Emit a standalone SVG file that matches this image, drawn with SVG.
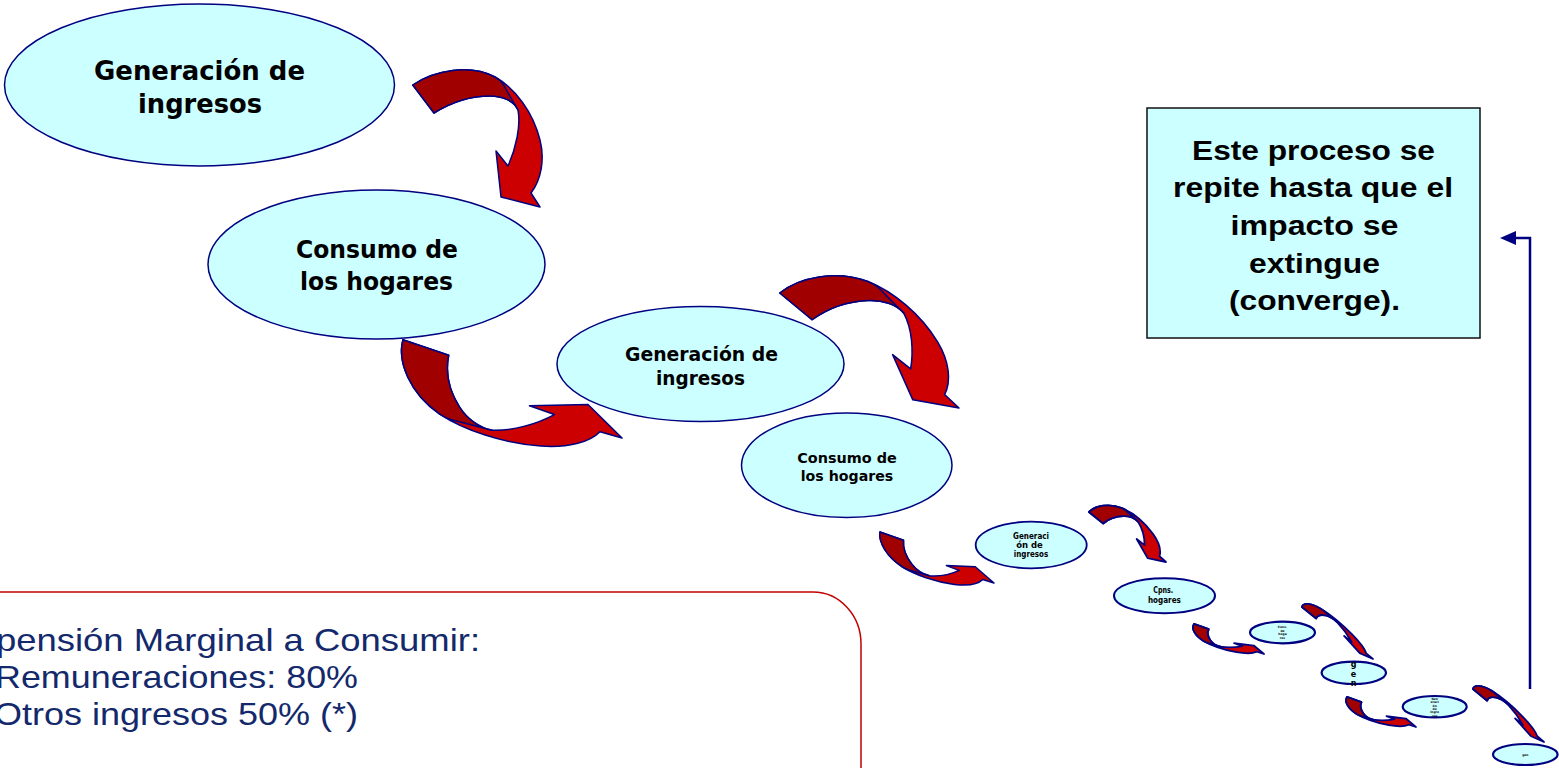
<svg xmlns="http://www.w3.org/2000/svg" xmlns:xlink="http://www.w3.org/1999/xlink" width="1559" height="768" viewBox="0 0 1559 768">
<style>
.ell{fill:#CCFFFF;stroke:#000080}
.et{font-family:"DejaVu Sans","Verdana",sans-serif;font-weight:bold;fill:#000;text-anchor:middle}
.bt{font-family:"Liberation Sans",Arial,sans-serif;font-weight:bold;font-size:28px;fill:#000;text-anchor:middle}
.lt{font-family:"Liberation Sans",Arial,sans-serif;font-size:32px;fill:#13296B}
.ab{fill:#CC0000;stroke:#000080;vector-effect:non-scaling-stroke;stroke-linejoin:round}
.ad{fill:#A00000;stroke:#000080;vector-effect:non-scaling-stroke;stroke-linejoin:round}
.arr{stroke-width:1.5}
.arrs{stroke-width:1.8}
</style>
<defs>
<g id="arrowA">
<path class="ab" d="M412.8,85 C435,70 470,64 495,77 C515,88 533,112 540,140 C545,160 541,180 531,193 L540,207 L501,197 L496,151 L508,166 C516,148 521,126 518,110 C514,101 503,96 490,96 C470,96 450,103 434,113 Z"/>
<path class="ad" d="M412.8,85 C435,70 470,64 495,77 C499,79 501,81 503,84 L518,110 C514,101 503,96 490,96 C470,96 450,103 434,113 Z"/>
</g>
<marker id="head" markerUnits="userSpaceOnUse" markerWidth="18" markerHeight="16" viewBox="0 -8 18 16" refX="10" refY="0" orient="auto">
<path d="M0,-7 L16,0 L0,7 Z" fill="#000080"/>
</marker>
<clipPath id="clip8"><rect x="1318" y="661" width="72" height="25"/></clipPath>
</defs>
<rect width="1559" height="768" fill="#FFFFFF"/>

<g id="connectors">
<use xlink:href="#arrowA" class="arr"/>
<use xlink:href="#arrowA" class="arr" transform="matrix(0.5618,0.8880,1.2103,-0.1211,68.1,-16.45)"/>
<use xlink:href="#arrowA" class="arr" transform="matrix(1.1023,-0.0438,0.3197,0.9882,297.58,227.09)"/>
<use xlink:href="#arrowA" class="arr" transform="matrix(0.3287,0.4217,0.5923,-0.0210,693.9,359.63)"/>
<use xlink:href="#arrowA" class="arrs" transform="matrix(0.4215,-0.0066,0.1923,0.4168,898.57,479.3)"/>
<use xlink:href="#arrowA" class="arrs" transform="matrix(0.1554,0.2097,0.4120,0.0277,1094.8,535.04)"/>
<use xlink:href="#arrowA" class="arrs" transform="matrix(0.2597,0.0573,0.3116,0.3666,1168.25,552.18)"/>
<use xlink:href="#arrowA" class="arrs" transform="matrix(0.1551,0.2097,0.4035,0.0277,1248.64,608.04)"/>
<use xlink:href="#arrowA" class="arrs" transform="matrix(0.2597,0.0593,0.3116,0.3727,1339.25,632.83)"/>
<polyline points="1530,689 1530,238 1506,238" fill="none" stroke="#000080" stroke-width="2.5" marker-end="url(#head)"/>
</g>

<g id="n1">
<ellipse class="ell" cx="199.5" cy="85" rx="195" ry="81" stroke-width="1.5"/>
<text class="et" font-size="27" x="199.5" y="80" textLength="211" lengthAdjust="spacingAndGlyphs">Generación de</text>
<text class="et" font-size="27" x="200" y="113" textLength="124" lengthAdjust="spacingAndGlyphs">ingresos</text>
</g>

<g id="n2">
<ellipse class="ell" cx="376.5" cy="264.5" rx="168.5" ry="74.5" stroke-width="1.5"/>
<text class="et" font-size="25" x="377" y="258" textLength="162" lengthAdjust="spacingAndGlyphs">Consumo de</text>
<text class="et" font-size="25" x="376.5" y="290" textLength="153" lengthAdjust="spacingAndGlyphs">los hogares</text>
</g>

<g id="n3">
<ellipse class="ell" cx="700.5" cy="364" rx="143.5" ry="57.5" stroke-width="1.5"/>
<text class="et" font-size="19" x="701.5" y="361" textLength="153" lengthAdjust="spacingAndGlyphs">Generación de</text>
<text class="et" font-size="19" x="700.5" y="385" textLength="89" lengthAdjust="spacingAndGlyphs">ingresos</text>
</g>

<g id="n4">
<ellipse class="ell" cx="846.75" cy="465.25" rx="105.25" ry="52.25" stroke-width="1.5"/>
<text class="et" font-size="14.5" x="847" y="463" textLength="99.5" lengthAdjust="spacingAndGlyphs">Consumo de</text>
<text class="et" font-size="14.5" x="847" y="481" textLength="92.5" lengthAdjust="spacingAndGlyphs">los hogares</text>
</g>

<g id="n5">
<ellipse class="ell" cx="1031.2" cy="545" rx="55.5" ry="23.3" stroke-width="1.8"/>
<text class="et" font-size="8.5" x="1031" y="538.5" textLength="36" lengthAdjust="spacingAndGlyphs">Generaci</text>
<text class="et" font-size="8.5" x="1029.5" y="547.5" textLength="26.7" lengthAdjust="spacingAndGlyphs">ón de</text>
<text class="et" font-size="8.5" x="1031" y="556.7" textLength="34.3" lengthAdjust="spacingAndGlyphs">ingresos</text>
</g>

<g id="n6">
<ellipse class="ell" cx="1164.5" cy="595.8" rx="50.5" ry="17.5" stroke-width="2"/>
<text class="et" font-size="8.5" x="1163.3" y="593.3" textLength="20" lengthAdjust="spacingAndGlyphs">Cpns.</text>
<text class="et" font-size="8.5" x="1164.4" y="602.7" textLength="33" lengthAdjust="spacingAndGlyphs">hogares</text>
</g>

<g id="n7">
<ellipse class="ell" cx="1282.5" cy="632.5" rx="32.5" ry="10.8" stroke-width="2.2"/>
<text class="et" font-size="3" x="1282.5" y="628">Cons.</text>
<text class="et" font-size="3" x="1282.5" y="631.5">de</text>
<text class="et" font-size="3" x="1282.5" y="635">hoga</text>
<text class="et" font-size="3" x="1282.5" y="638.5">res</text>
</g>

<g id="n8">
<ellipse class="ell" cx="1353.8" cy="672.8" rx="32.2" ry="11.2" stroke-width="2.2"/>
<g clip-path="url(#clip8)">
<text class="et" font-size="8" x="1353.5" y="667">g</text>
<text class="et" font-size="8" x="1353.5" y="676.5">e</text>
<text class="et" font-size="8" x="1353.5" y="686">n</text>
</g>
</g>

<g id="n9">
<ellipse class="ell" cx="1434.7" cy="706.7" rx="32" ry="10.7" stroke-width="2.2"/>
<text class="et" font-size="3" x="1434.7" y="700">Gen</text>
<text class="et" font-size="3" x="1434.7" y="703.3">eraci</text>
<text class="et" font-size="3" x="1434.7" y="706.6">ón</text>
<text class="et" font-size="3" x="1434.7" y="709.9">de</text>
<text class="et" font-size="3" x="1434.7" y="713.2">ingre</text>
<text class="et" font-size="3" x="1434.7" y="716.5">sos</text>
</g>

<g id="n10">
<ellipse class="ell" cx="1525.3" cy="754.5" rx="32.3" ry="10.5" stroke-width="2.2"/>
<text class="et" font-size="3" x="1525.3" y="755.5">gen</text>
</g>

<g id="note">
<rect x="1147" y="108" width="333" height="230" fill="#CCFFFF" stroke="#111111" stroke-width="1.5"/>
<text class="bt" x="1313.5" y="160" textLength="243" lengthAdjust="spacingAndGlyphs">Este proceso se</text>
<text class="bt" x="1313" y="197" textLength="280" lengthAdjust="spacingAndGlyphs">repite hasta que el</text>
<text class="bt" x="1314.5" y="235" textLength="168" lengthAdjust="spacingAndGlyphs">impacto se</text>
<text class="bt" x="1314.5" y="273" textLength="131" lengthAdjust="spacingAndGlyphs">extingue</text>
<text class="bt" x="1314.5" y="310" textLength="171" lengthAdjust="spacingAndGlyphs">(converge).</text>
</g>

<g id="legend">
<rect x="-60" y="592" width="921" height="260" rx="48" ry="52" fill="#FFFFFF" stroke="#C00000" stroke-width="1.5"/>
<text class="lt" x="-4" y="651" textLength="484" lengthAdjust="spacingAndGlyphs">pensión Marginal a Consumir:</text>
<text class="lt" x="-5" y="688" textLength="363" lengthAdjust="spacingAndGlyphs">Remuneraciones: 80%</text>
<text class="lt" x="-6" y="725" textLength="364" lengthAdjust="spacingAndGlyphs">Otros ingresos 50% (*)</text>
</g>
</svg>
